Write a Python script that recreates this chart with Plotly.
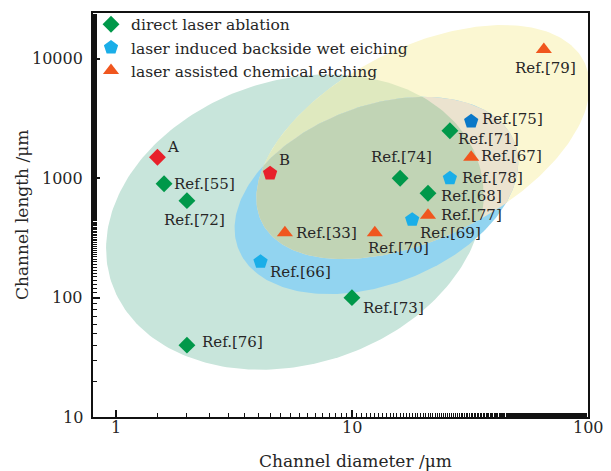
import numpy as np
import plotly.graph_objects as go

# ---------------- data ----------------
dla_x = [1.6, 2.0, 2.0, 10, 16, 21, 26]
dla_y = [900, 650, 40, 100, 1000, 750, 2500]
dla_lab = ["Ref.[55]", "Ref.[72]", "Ref.[76]", "Ref.[73]", "Ref.[74]", "Ref.[68]", "Ref.[71]"]

libwe_x = [4.1, 18, 26, 32]
libwe_y = [200, 450, 1000, 3000]
libwe_lab = ["Ref.[66]", "Ref.[69]", "Ref.[78]", "Ref.[75]"]

lace_x = [5.2, 12.5, 21, 32, 65]
lace_y = [350, 350, 490, 1500, 12000]
lace_lab = ["Ref.[33]", "Ref.[70]", "Ref.[77]", "Ref.[67]", "Ref.[79]"]

ab_x = [1.5, 4.5]
ab_y = [1500, 1100]
ab_lab = ["A", "B"]

x_ticks = [1, 10, 100]
x_tick_text = ["1", "10", "100"]
y_ticks = [10, 100, 1000, 10000]
y_tick_text = ["10", "100", "1000", "10000"]

# ---------------- styling / geometry ----------------
SERIF = "DejaVu Serif"
TXT = "#262626"
C_GREEN, C_BLUE, C_BLUE_D, C_ORANGE, C_RED = "#00984a", "#1aaee8", "#0a78c8", "#f0561e", "#e8202a"

# label offsets (px): (xanchor, xshift, yshift)
lab_style = {
    "A": ("left", 8, 10), "B": ("left", 7, 13),
    "Ref.[55]": ("left", 8, 0), "Ref.[72]": ("center", 8, -19),
    "Ref.[76]": ("left", 13, 3), "Ref.[73]": ("left", 9, -10),
    "Ref.[74]": ("center", 1, 21), "Ref.[68]": ("left", 11, -3),
    "Ref.[71]": ("left", 6, -8), "Ref.[66]": ("left", 7, -10),
    "Ref.[69]": ("left", 6, -13), "Ref.[78]": ("left", 10, 0),
    "Ref.[75]": ("left", 9, 2), "Ref.[33]": ("left", 9, 0),
    "Ref.[70]": ("center", 24, -15), "Ref.[77]": ("left", 11, 0),
    "Ref.[67]": ("left", 8, 1), "Ref.[79]": ("center", 2, -18),
}

# shaded ellipses: centre (data units), semi-axes in px, tilt in degrees
PX_DEC, PY_DEC = 236.0, 119.3
ell_green = dict(cx=5.73, cy=430, a=193, b=142, ang=18)
ell_blue = dict(cx=12.7, cy=718, a=148, b=89, ang=21)
ell_yellow = dict(cx=20.0, cy=2013, a=180, b=95, ang=26.5)


def ellipse(e, n=260):
    t = np.linspace(0, 2 * np.pi, n, endpoint=False)
    th = np.radians(e["ang"])
    u0 = np.log10(e["cx"]) * PX_DEC
    v0 = np.log10(e["cy"]) * PY_DEC
    u = u0 + e["a"] * np.cos(t) * np.cos(th) - e["b"] * np.sin(t) * np.sin(th)
    v = v0 + e["a"] * np.cos(t) * np.sin(th) + e["b"] * np.sin(t) * np.cos(th)
    return list(zip(u, v))


def clip(subject, clipper):
    out = subject
    n = len(clipper)
    for i in range(n):
        a = clipper[i]
        b = clipper[(i + 1) % n]
        inp, out = out, []
        if not inp:
            break

        def inside(p):
            return (b[0] - a[0]) * (p[1] - a[1]) - (b[1] - a[1]) * (p[0] - a[0]) >= 0

        def inter(p, q):
            x1, y1, x2, y2 = a[0], a[1], b[0], b[1]
            x3, y3, x4, y4 = p[0], p[1], q[0], q[1]
            den = (x1 - x2) * (y3 - y4) - (y1 - y2) * (x3 - x4)
            tt = ((x1 - x3) * (y3 - y4) - (y1 - y3) * (x3 - x4)) / den
            return (x1 + tt * (x2 - x1), y1 + tt * (y2 - y1))

        s = inp[-1]
        for e in inp:
            if inside(e):
                if not inside(s):
                    out.append(inter(s, e))
                out.append(e)
            elif inside(s):
                out.append(inter(s, e))
            s = e
    return out


def to_data(poly):
    arr = np.array(poly + [poly[0]])
    return 10 ** (arr[:, 0] / PX_DEC), 10 ** (arr[:, 1] / PY_DEC)


G = ellipse(ell_green)
B = ellipse(ell_blue)
Y = ellipse(ell_yellow)
YG = clip(Y, G)
YB = clip(Y, B)
YBG = clip(YB, G)

regions = [
    (G, "#c8e5db"),
    (Y, "#fbf7d2"),
    (YG, "#dfe9bf"),
    (B, "#92d4f0"),
    (YB, "#ebe3cf"),
    (YBG, "#c1d4b5"),
]

fig = go.Figure()
for poly, col in regions:
    px, py = to_data(poly)
    fig.add_trace(go.Scatter(x=px, y=py, mode="lines", fill="toself", fillcolor=col,
                             line=dict(width=0), hoverinfo="skip", showlegend=False))

fig.add_trace(go.Scatter(x=dla_x, y=dla_y, mode="markers", name="direct laser ablation",
                         marker=dict(symbol="diamond", size=13, color=C_GREEN, opacity=1, line=dict(width=0))))
fig.add_trace(go.Scatter(x=libwe_x, y=libwe_y, mode="markers", name="laser induced backside wet eiching",
                         marker=dict(symbol="pentagon", size=15, opacity=1,
                                     color=[C_BLUE, C_BLUE, C_BLUE, C_BLUE_D], line=dict(width=0))))
fig.add_trace(go.Scatter(x=lace_x, y=lace_y, mode="markers", name="laser assisted chemical etching",
                         marker=dict(symbol="triangle-up", size=14, color=C_ORANGE, opacity=1, line=dict(width=0))))
fig.add_trace(go.Scatter(x=ab_x, y=ab_y, mode="markers", showlegend=False,
                         marker=dict(symbol=["diamond", "pentagon"], size=[13, 15], color=C_RED,
                                     opacity=1, line=dict(width=0))))

for xs, ys, labs in [(dla_x, dla_y, dla_lab), (libwe_x, libwe_y, libwe_lab),
                     (lace_x, lace_y, lace_lab), (ab_x, ab_y, ab_lab)]:
    for xv, yv, lab in zip(xs, ys, labs):
        anc, dx, dy = lab_style[lab]
        fig.add_annotation(x=np.log10(xv), y=np.log10(yv), text=lab, showarrow=False,
                           xanchor=anc, yanchor="middle", xshift=dx, yshift=dy,
                           font=dict(family=SERIF, size=15, color=TXT))

# tick labels and axis titles as text annotations (precise placement)
tick_font = dict(family=SERIF, size=16, color=TXT)
for tv, tt in zip(x_ticks, x_tick_text):
    fig.add_annotation(x=np.log10(tv), xref="x", y=0, yref="paper", text=tt, showarrow=False,
                       xanchor="center", yanchor="middle", yshift=-10, font=tick_font)
for tv, tt in zip(y_ticks, y_tick_text):
    fig.add_annotation(x=0, xref="paper", y=np.log10(tv), yref="y", text=tt, showarrow=False,
                       xanchor="right", yanchor="middle", xshift=-8, font=tick_font)
title_font = dict(family=SERIF, size=17, color=TXT)
fig.add_annotation(x=0.53, xref="paper", y=0, yref="paper", text="Channel diameter /μm",
                   showarrow=False, xanchor="center", yanchor="middle", yshift=-44, font=title_font)
fig.add_annotation(x=0, xref="paper", y=0.5, yref="paper", text="Channel length /μm", textangle=-90,
                   showarrow=False, xanchor="center", yanchor="middle", xshift=-71, font=title_font)

axis_common = dict(type="log", showgrid=False, zeroline=False, automargin=False, showticklabels=False,
                   showline=True, linecolor="#111", linewidth=1.5, mirror=True,
                   ticks="inside", ticklen=7, tickwidth=1.5, tickcolor="#111",
                   minor=dict(ticks="inside", ticklen=4, tickwidth=1.2, tickcolor="#111", showgrid=False))

fig.update_xaxes(range=[np.log10(0.8), 2.0], tickmode="array", tickvals=x_ticks, **axis_common)
fig.update_yaxes(range=[1, 4.385], tickmode="array", tickvals=y_ticks, **axis_common)

fig.update_layout(
    width=603, height=463,
    margin=dict(l=85, r=23, t=5, b=54, autoexpand=False),
    plot_bgcolor="white", paper_bgcolor="white",
    font=dict(family=SERIF, color=TXT),
    legend=dict(x=-0.004, y=1.013, xanchor="left", yanchor="top", bgcolor="rgba(0,0,0,0)",
                font=dict(family=SERIF, size=15.5, color=TXT), tracegroupgap=0),
    showlegend=True,
)

fig.write_html("out.html")
